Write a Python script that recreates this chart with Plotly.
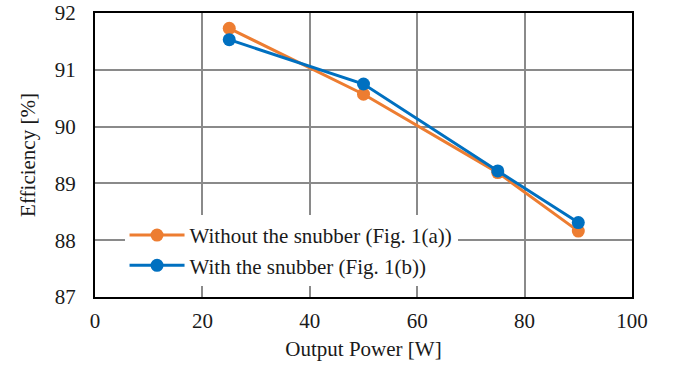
import plotly.graph_objects as go

power = [25, 50, 75, 90]
eff_without = [91.73, 90.57, 89.19, 88.16]
eff_with = [91.53, 90.75, 89.22, 88.31]
names = ["Without the snubber (Fig. 1(a))", "With the snubber (Fig. 1(b))"]
x_ticks = [0, 20, 40, 60, 80, 100]
y_ticks = [87, 88, 89, 90, 91, 92]

FONT = "Liberation Serif"
FS = 21

fig = go.Figure()
fig.add_trace(go.Scatter(x=power, y=eff_without, name=names[0], mode="lines+markers",
                         line=dict(color="#ED7D31", width=3), marker=dict(size=13, color="#ED7D31")))
fig.add_trace(go.Scatter(x=power, y=eff_with, name=names[1], mode="lines+markers",
                         line=dict(color="#0070C0", width=3), marker=dict(size=13, color="#0070C0")))

fig.update_layout(
    width=673, height=367,
    margin=dict(l=95, r=41, t=13, b=70),
    paper_bgcolor="white", plot_bgcolor="white",
    font=dict(family=FONT, size=FS, color="#1a1a1a"),
    showlegend=True,
    legend=dict(x=0.055, y=0.289, xanchor="left", yanchor="top",
                bgcolor="white", borderwidth=0, font=dict(size=FS, family=FONT),
                tracegroupgap=0, itemwidth=55),
    xaxis=dict(range=[0, 100], tickvals=x_ticks, showgrid=True, gridcolor="#8a8a8a", gridwidth=1.5,
               showline=True, linecolor="black", linewidth=2, mirror=True, zeroline=False,
               automargin=False, ticks="", ticklen=0, ticklabelstandoff=4,
               tickfont=dict(size=FS, family=FONT),
               title=dict(text="Output Power [W]", font=dict(size=FS, family=FONT), standoff=9)),
    yaxis=dict(range=[87, 92], tickvals=y_ticks, showgrid=True, gridcolor="#8a8a8a", gridwidth=1.5,
               showline=True, linecolor="black", linewidth=2, mirror=True, zeroline=False,
               automargin=False, ticks="", ticklen=0, ticklabelstandoff=13,
               tickfont=dict(size=FS, family=FONT),
               title=dict(text="Efficiency [%]", font=dict(size=FS, family=FONT), standoff=13)),
)

fig.write_html("out.html")
